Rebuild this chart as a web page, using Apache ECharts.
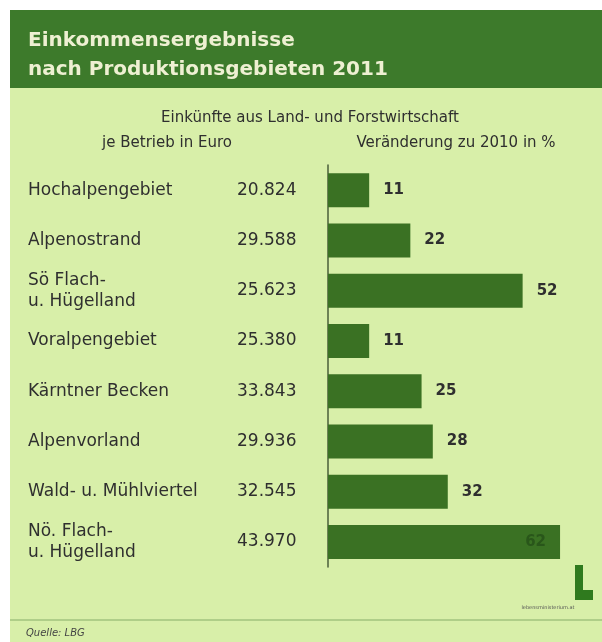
<!DOCTYPE html>
<html>
<head>
<meta charset="utf-8">
<script src="https://cdn.jsdelivr.net/npm/echarts@6/dist/echarts.min.js"></script>
<style>
html,body{margin:0;padding:0;background:#ffffff;}
#chart{width:602px;height:642px;}
</style>
</head>
<body>
<div id="chart"></div>
<script>
const regions = [
  'Hochalpengebiet',
  'Alpenostrand',
  'Sö Flach-\nu. Hügelland',
  'Voralpengebiet',
  'Kärntner Becken',
  'Alpenvorland',
  'Wald- u. Mühlviertel',
  'Nö. Flach-\nu. Hügelland'
];
const incomeLabels = ['20.824', '29.588', '25.623', '25.380', '33.843', '29.936', '32.545', '43.970'];
const changePct = [11, 22, 52, 11, 25, 28, 32, 62];

const titleLines = ['Einkommensergebnisse', 'nach Produktionsgebieten 2011'];
const headTop = 'Einkünfte aus Land- und Forstwirtschaft';
const headLeft = 'je Betrieb in Euro';
const headRight = 'Veränderung zu 2010 in %';
const sourceText = 'Quelle: LBG';
const logoText = 'lebensministerium.at';

const FONT = 'DejaVu Sans';
const TXT = '#2f2f2f';
const BAR = '#3a7123';

const chart = echarts.init(document.getElementById('chart'), null, {renderer: 'canvas'});

const barData = changePct.map((v, i) => {
  if (i === changePct.length - 1) {
    return {value: v, label: {position: 'insideRight', distance: 14, color: '#29561a'}};
  }
  return v;
});

chart.setOption({
  animation: false,
  backgroundColor: '#ffffff',
  graphic: [
    {type: 'rect', z: -10, shape: {x: 10, y: 88, width: 592, height: 554}, style: {fill: '#d8efa9'}},
    {type: 'rect', z: -9, shape: {x: 10, y: 10, width: 592, height: 78}, style: {fill: '#3d7a2b'}},
    {type: 'text', left: 28, top: 31, style: {text: titleLines[0], font: 'bold 20px "DejaVu Sans"', fill: '#eef0d2'}},
    {type: 'text', left: 28, top: 60, style: {text: titleLines[1], font: 'bold 20px "DejaVu Sans"', fill: '#eef0d2'}},
    {type: 'text', x: 310, y: 118, style: {text: headTop, font: '15px "DejaVu Sans"', fill: TXT, align: 'center', verticalAlign: 'middle'}},
    {type: 'text', x: 167, y: 143, style: {text: headLeft, font: '15px "DejaVu Sans"', fill: TXT, align: 'center', verticalAlign: 'middle'}},
    {type: 'text', x: 456, y: 143, style: {text: headRight, font: '15px "DejaVu Sans"', fill: TXT, align: 'center', verticalAlign: 'middle'}},
    {type: 'rect', shape: {x: 575, y: 565, width: 8, height: 35}, style: {fill: '#2f7a1e'}},
    {type: 'rect', shape: {x: 575, y: 590, width: 18, height: 10}, style: {fill: '#2f7a1e'}},
    {type: 'text', x: 548, y: 608, style: {text: logoText, font: '5px "DejaVu Sans"', fill: '#555', align: 'center', verticalAlign: 'middle'}},
    {type: 'line', shape: {x1: 10, y1: 620, x2: 602, y2: 620}, style: {stroke: '#86ad68', lineWidth: 1}},
    {type: 'text', x: 26, y: 633, style: {text: sourceText, font: 'italic 10px "DejaVu Sans"', fill: '#444', verticalAlign: 'middle'}}
  ],
  grid: {left: 328, top: 165, width: 262, height: 402, containLabel: false},
  xAxis: {type: 'value', min: 0, max: 70, show: false},
  yAxis: [
    {
      type: 'category', data: regions, inverse: true,
      axisLine: {show: true, lineStyle: {color: '#4a5e3a', width: 1.5}},
      axisTick: {show: false},
      splitLine: {show: false},
      axisLabel: {align: 'left', margin: 300, fontSize: 17, fontFamily: FONT, color: TXT, lineHeight: 21}
    },
    {
      type: 'category', data: incomeLabels, inverse: true, position: 'left', offset: 0,
      axisLine: {show: false}, axisTick: {show: false}, splitLine: {show: false},
      axisLabel: {align: 'left', margin: 91, fontSize: 17, fontFamily: FONT, color: TXT}
    }
  ],
  series: [{
    type: 'bar',
    yAxisIndex: 0,
    data: barData,
    barWidth: 34,
    itemStyle: {color: BAR},
    label: {show: true, position: 'right', distance: 14, fontSize: 15, fontWeight: 'bold', fontFamily: FONT, color: TXT}
  }]
});
</script>
</body>
</html>
